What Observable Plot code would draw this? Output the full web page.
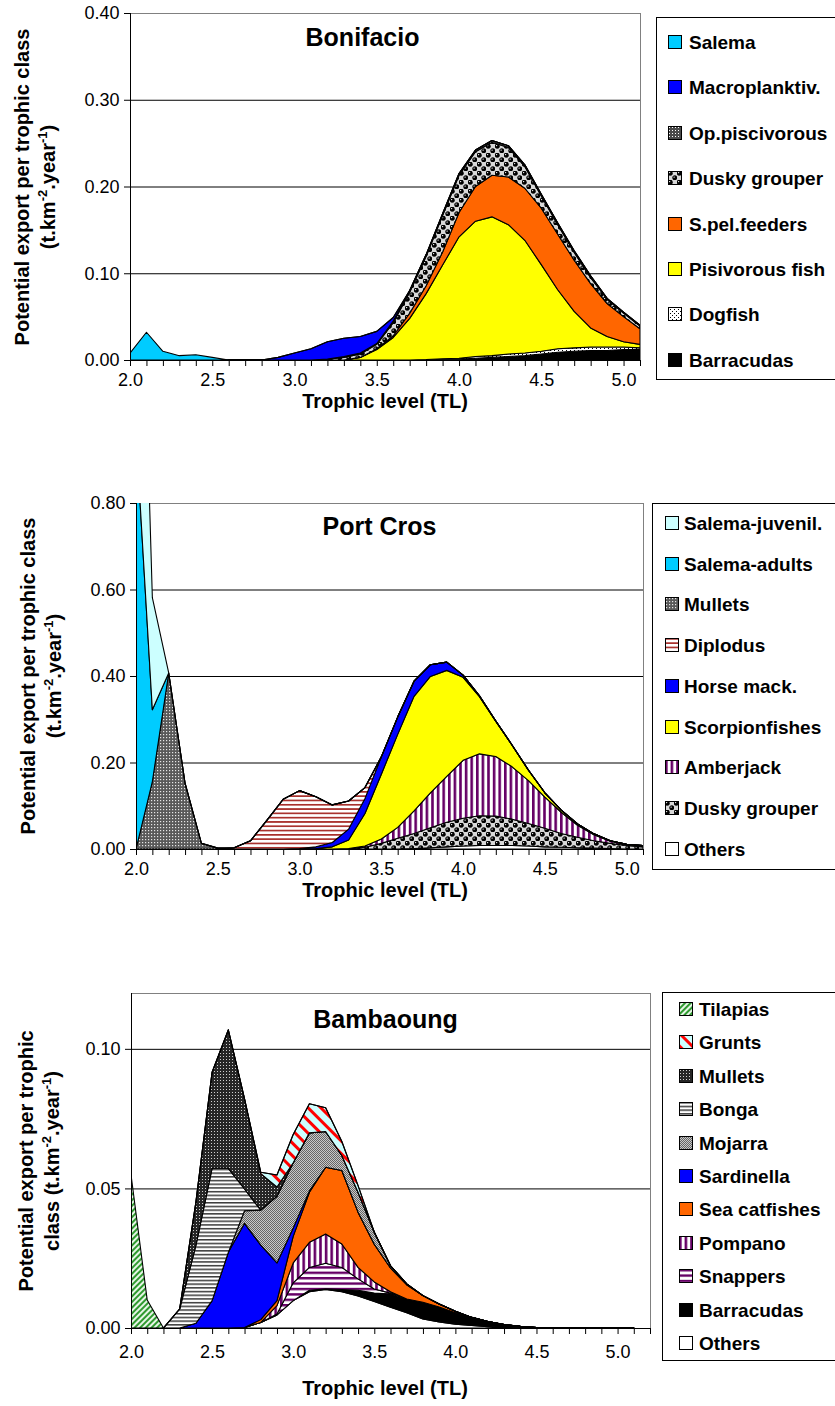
<!DOCTYPE html>
<html>
<head>
<meta charset="utf-8">
<script src="https://cdn.jsdelivr.net/npm/d3@7"></script>
<script src="https://cdn.jsdelivr.net/npm/@observablehq/plot@0.6"></script>
<style>
  html, body { margin: 0; padding: 0; background: #fff; }
  #page { position: relative; width: 835px; height: 1406px; overflow: hidden;
          font-family: "Liberation Sans", Arial, sans-serif; color: #000; }
  .chart { position: absolute; left: 0; }
  .ytitle { position: absolute; font-weight: bold; font-size: 20px; white-space: nowrap;
            transform: translate(-50%, -50%) rotate(-90deg); line-height: 1; }
  .ytitle sup { font-size: 13px; vertical-align: 8px; line-height: 0; }
  .xtitle { position: absolute; font-weight: bold; font-size: 20px; white-space: nowrap;
            transform: translate(-50%, -50%); line-height: 1; }
  .legend { position: absolute; border: 1px solid #000; background: #fff; box-sizing: border-box; }
  .legend .item { position: absolute; font-weight: bold; font-size: 19px; white-space: nowrap;
                  transform: translateY(-50%); line-height: 1; }
  .legend svg { position: absolute; }
</style>
</head>
<body>
<!-- fill patterns shared by the areas and the legend swatches -->
<svg width="0" height="0" style="position:absolute">
  <defs>
    <pattern id="p-opdots" width="3" height="3" patternUnits="userSpaceOnUse">
      <rect width="3" height="3" fill="#4a4a4a"/><rect x="1" y="1" width="1" height="1" fill="#fff"/>
    </pattern>
    <pattern id="p-mullet-pc" width="3" height="3" patternUnits="userSpaceOnUse">
      <rect width="3" height="3" fill="#595959"/><rect x="1" y="1" width="1.2" height="1.2" fill="#e6e6e6"/>
    </pattern>
    <pattern id="p-mullet-bam" width="3" height="3" patternUnits="userSpaceOnUse">
      <rect width="3" height="3" fill="#262626"/><rect x="1" y="1" width="1" height="1" fill="#d0d0d0"/>
    </pattern>
    <pattern id="p-mojarra" width="2" height="2" patternUnits="userSpaceOnUse">
      <rect width="2" height="2" fill="#c8c8c8"/><rect width="1" height="1" fill="#666"/><rect x="1" y="1" width="1" height="1" fill="#666"/>
    </pattern>
    <pattern id="p-balls" width="9" height="9" patternUnits="userSpaceOnUse">
      <rect width="9" height="9" fill="#fff"/>
      <rect x="4.5" y="0" width="4.5" height="4.5" fill="#d8d8d8"/><rect x="0" y="4.5" width="4.5" height="4.5" fill="#d8d8d8"/>
      <circle cx="2.25" cy="2.25" r="2.5" fill="#000"/><circle cx="6.75" cy="6.75" r="2.5" fill="#000"/>
      <circle cx="1.6" cy="1.6" r="0.7" fill="#fff"/><circle cx="6.1" cy="6.1" r="0.7" fill="#fff"/>
    </pattern>
    <pattern id="p-dogfish" width="4" height="4" patternUnits="userSpaceOnUse">
      <rect width="4" height="4" fill="#fff"/><rect x="0" y="0" width="1" height="1" fill="#000"/><rect x="2" y="2" width="1" height="1" fill="#000"/>
    </pattern>
    <pattern id="p-diplodus" width="4.3" height="4.3" patternUnits="userSpaceOnUse">
      <rect width="4.3" height="4.3" fill="#fff"/><rect y="0" width="4.3" height="1.7" fill="#a8302c"/>
    </pattern>
    <pattern id="p-vpurple" width="5.6" height="5.6" patternUnits="userSpaceOnUse">
      <rect width="5.6" height="5.6" fill="#fff"/><rect x="0" width="2.6" height="5.6" fill="#660066"/>
    </pattern>
    <pattern id="p-hpurple" width="5.4" height="5.4" patternUnits="userSpaceOnUse">
      <rect width="5.4" height="5.4" fill="#fff"/><rect y="0" width="5.4" height="2.4" fill="#660066"/>
    </pattern>
    <pattern id="p-bonga" width="3.7" height="3.7" patternUnits="userSpaceOnUse">
      <rect width="3.7" height="3.7" fill="#fff"/><rect y="0" width="3.7" height="1.5" fill="#3a3a3a"/>
    </pattern>
    <pattern id="p-tilapia" width="4" height="4" patternUnits="userSpaceOnUse" patternTransform="rotate(45)">
      <rect width="4" height="4" fill="#e6f5e6"/><rect width="2" height="4" fill="#2f9a2f"/>
    </pattern>
    <pattern id="p-grunts" width="9" height="9" patternUnits="userSpaceOnUse" patternTransform="rotate(-45)">
      <rect width="9" height="9" fill="#ccffff"/><rect width="3" height="9" fill="#ff0000"/>
    </pattern>
  </defs>
</svg>
<div id="page"></div>
<script>
// Trophic level classes (x categories)
const trophicLevels = [2.0,2.1,2.2,2.3,2.4,2.5,2.6,2.7,2.8,2.9,3.0,3.1,3.2,3.3,3.4,3.5,
                       3.6,3.7,3.8,3.9,4.0,4.1,4.2,4.3,4.4,4.5,4.6,4.7,4.8,4.9,5.0,5.1];
const xTickLabels = [2.0, 2.5, 3.0, 3.5, 4.0, 4.5, 5.0];

// ---- Bonifacio: potential export per trophic class (t.km-2.year-1)
const bonBarracudas = [0,0,0,0,0,0,0,0,0,0,0,0,0,0,0,0,0,0,0.0005,0.001,0.001,0.002,0.003,0.004,0.005,0.007,0.009,0.010,0.011,0.011,0.012,0.012];
const bonDogfish    = [0,0,0,0,0,0,0,0,0,0,0,0,0,0,0,0,0,0,0,0.0005,0.001,0.002,0.002,0.003,0.003,0.003,0.004,0.004,0.004,0.004,0.003,0.002];
const bonPisivorous = [0,0,0,0,0,0,0,0,0,0,0,0,0,0,0.003,0.012,0.026,0.048,0.076,0.108,0.140,0.156,0.160,0.149,0.130,0.100,0.068,0.042,0.022,0.012,0.006,0.004];
const bonSPelFeeders= [0,0,0,0,0,0,0,0,0,0,0,0,0,0,0,0.001,0.002,0.006,0.009,0.015,0.028,0.040,0.048,0.055,0.060,0.065,0.064,0.059,0.051,0.038,0.029,0.018];
const bonDuskyGrouper=[0,0,0,0,0,0,0,0,0,0,0,0,0.001,0.003,0.004,0.005,0.015,0.024,0.034,0.042,0.043,0.040,0.038,0.034,0.025,0.014,0.011,0.009,0.007,0.005,0.004,0.003];
const bonOpPiscivorous=[0,0,0,0,0,0,0,0,0,0,0,0,0,0.001,0.001,0.001,0.002,0.002,0.002,0.002,0.002,0.002,0.002,0.002,0.002,0.002,0.002,0.002,0.002,0.001,0.001,0.001];
const bonMacroplanktiv=[0,0,0,0,0,0,0,0,0,0.003,0.008,0.013,0.020,0.021,0.019,0.014,0.004,0,0,0,0,0,0,0,0,0,0,0,0,0,0,0];
const bonSalema     = [0.008,0.032,0.010,0.005,0.006,0.003,0,0,0,0,0,0,0,0,0,0,0,0,0,0,0,0,0,0,0,0,0,0,0,0,0,0];

// ---- Port Cros
const pcOthers      = [0,0,0,0,0,0,0,0,0,0,0,0,0,0,0,0,0,0.001,0.003,0.005,0.007,0.008,0.008,0.008,0.007,0.005,0.004,0.003,0.002,0.001,0,0];
const pcDuskyGrouper= [0,0,0,0,0,0,0,0,0,0,0,0,0,0,0.004,0.013,0.025,0.035,0.046,0.057,0.064,0.069,0.068,0.061,0.052,0.043,0.032,0.024,0.017,0.012,0.008,0.005];
const pcAmberjack   = [0,0,0,0,0,0,0,0,0,0,0,0,0,0.001,0.003,0.010,0.025,0.052,0.081,0.106,0.134,0.143,0.138,0.121,0.099,0.072,0.049,0.028,0.014,0.005,0.002,0.002];
const pcScorpion    = [0,0,0,0,0,0,0,0,0,0,0,0.001,0.005,0.020,0.075,0.150,0.215,0.265,0.269,0.245,0.192,0.132,0.081,0.050,0.024,0.010,0.005,0.003,0.002,0.001,0.001,0.001];
const pcHorseMack   = [0,0,0,0,0,0,0,0,0,0,0.001,0.004,0.010,0.025,0.035,0.040,0.040,0.035,0.027,0.019,0.005,0.002,0.001,0,0,0,0,0,0,0,0,0];
const pcDiplodus    = [0,0,0,0,0,0,0.003,0.019,0.066,0.115,0.134,0.116,0.087,0.065,0.025,0,0,0,0,0,0,0,0,0,0,0,0,0,0,0,0,0];
const pcMullets     = [0,0.156,0.407,0.152,0.013,0.002,0,0,0,0,0,0,0,0,0,0,0,0,0,0,0,0,0,0,0,0,0,0,0,0,0,0];
const pcSalemaAdults= [0.96,0.166,0,0,0,0,0,0,0,0,0,0,0,0,0,0,0,0,0,0,0,0,0,0,0,0,0,0,0,0,0,0];
const pcSalemaJuv   = [0.90,0.259,0,0,0,0,0,0,0,0,0,0,0,0,0,0,0,0,0,0,0,0,0,0,0,0,0,0,0,0,0,0];

// ---- Bambaoung
const bamOthers     = [0,0,0,0,0,0,0,0.0002,0.002,0.0047,0.0098,0.013,0.0138,0.013,0.0115,0.0095,0.0074,0.0055,0.0032,0.0022,0.0014,0.0009,0.0005,0.0002,0,0,0,0,0,0,0,0];
const bamBarracudas = [0,0,0,0,0,0,0,0,0,0,0,0.0005,0.0002,0.0008,0.002,0.003,0.0048,0.0049,0.006,0.0053,0.0041,0.0029,0.0018,0.001,0.0006,0.0002,0,0,0,0,0,0];
const bamSnappers   = [0,0,0,0,0,0,0,0,0,0.0003,0.0064,0.0082,0.0092,0.0079,0.0041,0.0015,0.0003,0,0,0,0,0,0,0,0,0,0,0,0,0,0,0];
const bamPompano    = [0,0,0,0,0,0,0,0,0,0.003,0.0071,0.009,0.0105,0.0084,0.0041,0.0025,0.0005,0,0,0,0,0,0,0,0,0,0,0,0,0,0,0];
const bamSeaCatfish = [0,0,0,0,0,0,0,0,0.001,0.0018,0.0095,0.0179,0.0239,0.0263,0.0198,0.0135,0.0085,0.0051,0.0024,0.0011,0.0005,0,0,0,0,0,0,0,0,0,0,0];
const bamSardinella = [0,0,0,0,0.0017,0.0098,0.0271,0.0373,0.0267,0.0135,0.003,0.0005,0,0,0,0,0,0,0,0,0,0,0,0,0,0,0,0,0,0,0,0];
const bamMojarra    = [0,0,0,0,0,0,0,0.0045,0.0125,0.0239,0.0234,0.0208,0.0128,0.0054,0.0071,0.0043,0.0008,0.0003,0,0,0,0,0,0,0,0,0,0,0,0,0,0];
const bamBonga      = [0,0,0,0.0068,0.0278,0.0474,0.0301,0.0078,0,0,0,0,0,0,0,0,0,0,0,0,0,0,0,0,0,0,0,0,0,0,0,0];
const bamMullets    = [0,0,0,0,0.0155,0.0344,0.0496,0.0323,0.0131,0.0033,0,0,0,0,0,0,0,0,0,0,0,0,0,0,0,0,0,0,0,0,0,0];
const bamGrunts     = [0,0,0,0,0,0,0,0,0.0005,0.0043,0.0101,0.0104,0.0085,0.005,0.0024,0,0,0,0,0,0,0,0,0,0,0,0,0,0,0,0,0];
const bamTilapias   = [0.055,0.010,0,0,0,0,0,0,0,0,0,0,0,0,0,0,0,0,0,0,0,0,0,0,0,0,0,0,0,0,0,0];

// Series listed bottom-to-top of each stack
const panels = [
  {
    title: "Bonifacio", titleAt: [362, 37],
    svgTop: 0, frame: {l: 130, r: 640, t: 13, b: 360}, xMax: 5.1, yMax: 0.4,
    yTicks: [0, 0.1, 0.2, 0.3, 0.4],
    yTitle: ["Potential export per trophic class", "(t.km<sup>-2</sup>.year<sup>-1</sup>)"], yTitleX: [22, 48],
    labelGap: 22, xTitleY: 401,
    legend: {l: 656, t: 17, b: 380, first: 42, step: 45.4, swatchX: 668, textX: 689},
    series: [
      {name: "Barracudas", values: bonBarracudas, fill: "#000000"},
      {name: "Dogfish", values: bonDogfish, fill: "url(#p-dogfish)"},
      {name: "Pisivorous fish", values: bonPisivorous, fill: "#ffff00"},
      {name: "S.pel.feeders", values: bonSPelFeeders, fill: "#ff6600"},
      {name: "Dusky grouper", values: bonDuskyGrouper, fill: "url(#p-balls)"},
      {name: "Op.piscivorous", values: bonOpPiscivorous, fill: "url(#p-opdots)"},
      {name: "Macroplanktiv.", values: bonMacroplanktiv, fill: "#0000ff"},
      {name: "Salema", values: bonSalema, fill: "#00ccff"}
    ]
  },
  {
    title: "Port Cros", titleAt: [379, 526],
    svgTop: 490, frame: {l: 136, r: 643, t: 503, b: 849}, xMax: 5.1, yMax: 0.8,
    yTicks: [0, 0.2, 0.4, 0.6, 0.8],
    yTitle: ["Potential export per trophic class", "(t.km<sup>-2</sup>.year<sup>-1</sup>)"], yTitleX: [28, 54],
    labelGap: 22, xTitleY: 890,
    legend: {l: 652, t: 503, b: 870, first: 523, step: 40.7, swatchX: 665, textX: 684},
    series: [
      {name: "Others", values: pcOthers, fill: "#ffffff"},
      {name: "Dusky grouper", values: pcDuskyGrouper, fill: "url(#p-balls)"},
      {name: "Amberjack", values: pcAmberjack, fill: "url(#p-vpurple)"},
      {name: "Scorpionfishes", values: pcScorpion, fill: "#ffff00"},
      {name: "Horse mack.", values: pcHorseMack, fill: "#0000ff"},
      {name: "Diplodus", values: pcDiplodus, fill: "url(#p-diplodus)"},
      {name: "Mullets", values: pcMullets, fill: "url(#p-mullet-pc)"},
      {name: "Salema-adults", values: pcSalemaAdults, fill: "#00ccff"},
      {name: "Salema-juvenil.", values: pcSalemaJuv, fill: "#ccffff"}
    ]
  },
  {
    title: "Bambaoung", titleAt: [385, 1019],
    svgTop: 980, frame: {l: 131, r: 650, t: 993, b: 1328}, xMax: 5.2, yMax: 0.12,
    yTicks: [0, 0.05, 0.10],
    yTitle: ["Potential export per trophic", "class (t.km<sup>-2</sup>.year<sup>-1</sup>)"], yTitleX: [26, 52],
    labelGap: 26, xTitleY: 1388,
    legend: {l: 662, t: 992, b: 1361, first: 1009, step: 33.4, swatchX: 679, textX: 699},
    series: [
      {name: "Others", values: bamOthers, fill: "#ffffff"},
      {name: "Barracudas", values: bamBarracudas, fill: "#000000"},
      {name: "Snappers", values: bamSnappers, fill: "url(#p-hpurple)"},
      {name: "Pompano", values: bamPompano, fill: "url(#p-vpurple)"},
      {name: "Sea catfishes", values: bamSeaCatfish, fill: "#ff6600"},
      {name: "Sardinella", values: bamSardinella, fill: "#0000ff"},
      {name: "Mojarra", values: bamMojarra, fill: "url(#p-mojarra)"},
      {name: "Bonga", values: bamBonga, fill: "url(#p-bonga)"},
      {name: "Mullets", values: bamMullets, fill: "url(#p-mullet-bam)"},
      {name: "Grunts", values: bamGrunts, fill: "url(#p-grunts)"},
      {name: "Tilapias", values: bamTilapias, fill: "url(#p-tilapia)"}
    ]
  }
];

const page = document.getElementById("page");
const fmtX = d3.format(".1f");
const fmtY = d3.format(".2f");

function drawPanel(p) {
  const W = 660;
  const H = p.frame.b - p.svgTop + 45;
  const names = p.series.map(s => s.name);
  const rows = p.series.flatMap(s => trophicLevels.map((tl, i) => ({tl, series: s.name, value: s.values[i]})));
  const minorTicks = d3.range(20, Math.floor(p.xMax * 10 + 1e-6) + 1).map(d => d / 10);

  const chart = Plot.plot({
    width: W, height: H,
    marginLeft: p.frame.l, marginRight: W - p.frame.r,
    marginTop: p.frame.t - p.svgTop, marginBottom: H - (p.frame.b - p.svgTop),
    style: {fontFamily: "'Liberation Sans', Arial, sans-serif", fontSize: "18px", color: "#000", background: "transparent", overflow: "visible"},
    x: {domain: [2, p.xMax]},
    y: {domain: [0, p.yMax]},
    color: {domain: names, range: p.series.map(s => s.fill)},
    marks: [
      Plot.gridY(p.yTicks.filter(d => d > 0), {stroke: "#000", strokeOpacity: 1, strokeWidth: 1}),
      Plot.frame({stroke: "#808080"}),
      Plot.areaY(rows, Plot.stackY({order: names}, {
        x: "tl", y: "value", z: "series", fill: "series",
        stroke: "#000", strokeWidth: 1.1, clip: true
      })),
      Plot.ruleX([2], {stroke: "#000"}),
      Plot.ruleY([0], {stroke: "#000"}),
      Plot.axisX(minorTicks, {tickSize: 6, tickFormat: () => "", label: null, stroke: "#000"}),
      Plot.axisX(xTickLabels, {tickSize: 0, tickPadding: p.labelGap - 9, tickFormat: fmtX, fontSize: 18, label: null}),
      Plot.axisY(p.yTicks, {tickSize: 6, tickPadding: 5, tickFormat: fmtY, fontSize: 18, label: null, stroke: "#000"}),
      Plot.text([p.title], {
        frameAnchor: "top-left", dx: p.titleAt[0] - p.frame.l, dy: p.titleAt[1] - p.frame.t,
        text: d => d, fontSize: 25, fontWeight: "bold", textAnchor: "middle", lineAnchor: "middle", fill: "#000"
      })
    ]
  });
  chart.classList.add("chart");
  chart.style.top = p.svgTop + "px";
  page.appendChild(chart);

  // y axis title (two lines)
  const cy = (p.frame.t + p.frame.b) / 2;
  p.yTitle.forEach((html, i) => {
    const d = document.createElement("div");
    d.className = "ytitle";
    d.innerHTML = html;
    d.style.left = p.yTitleX[i] + "px";
    d.style.top = cy + "px";
    page.appendChild(d);
  });

  // x axis title
  const xt = document.createElement("div");
  xt.className = "xtitle";
  xt.textContent = "Trophic level (TL)";
  xt.style.left = "385px";
  xt.style.top = p.xTitleY + "px";
  page.appendChild(xt);

  // legend box, top series first
  const lg = p.legend;
  const box = document.createElement("div");
  box.className = "legend";
  box.style.left = lg.l + "px";
  box.style.top = lg.t + "px";
  box.style.width = "240px";
  box.style.height = (lg.b - lg.t) + "px";
  [...p.series].reverse().forEach((s, i) => {
    const y = lg.first + i * lg.step - lg.t - 1;
    const sw = d3.create("svg").attr("width", 14).attr("height", 14)
      .style("left", (lg.swatchX - lg.l - 1) + "px").style("top", (y - 7) + "px");
    sw.append("rect").attr("x", 0.5).attr("y", 0.5).attr("width", 13).attr("height", 13)
      .attr("fill", s.fill).attr("stroke", "#000");
    box.appendChild(sw.node());
    const t = document.createElement("div");
    t.className = "item";
    t.textContent = s.name;
    t.style.left = (lg.textX - lg.l - 1) + "px";
    t.style.top = y + "px";
    box.appendChild(t);
  });
  page.appendChild(box);
}

panels.forEach(drawPanel);
</script>
</body>
</html>
